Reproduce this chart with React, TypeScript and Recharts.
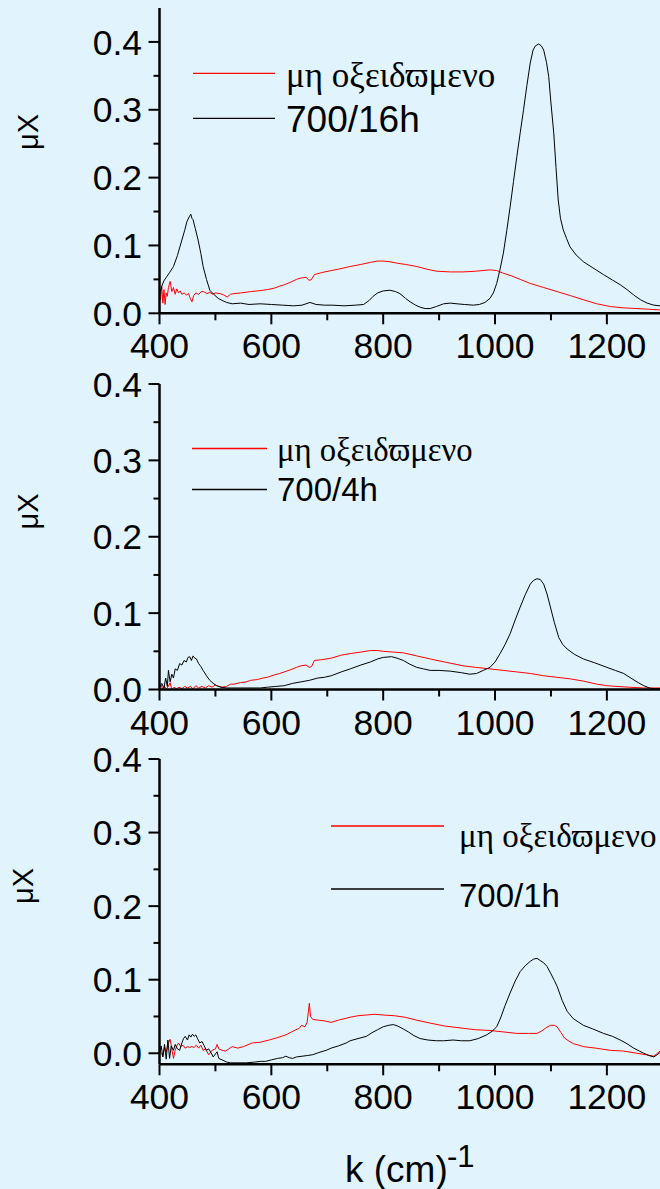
import React from 'react';
import { LineChart, Line, XAxis, YAxis, Legend } from 'recharts';

// ---------- data ----------
const k16Black = [400, 404, 408, 413, 418, 425, 432, 440, 445, 449, 453, 456, 458, 460, 464, 469, 474, 478, 484, 490, 497, 505, 512, 520, 530, 545, 560, 580, 600, 620, 640, 655, 669, 680, 695, 710, 730, 750, 765, 775, 782, 790, 800, 812, 822, 830, 840, 848, 858, 866, 875, 884, 895, 908, 920, 932, 945, 961, 972, 982, 991, 997, 1003, 1009, 1015, 1021, 1027, 1033, 1039, 1045, 1051, 1057, 1063, 1068, 1072, 1078, 1083, 1087, 1092, 1096, 1100, 1105, 1109, 1113, 1117, 1122, 1128, 1134, 1145, 1158, 1175, 1194, 1210, 1224, 1236, 1248, 1260, 1272, 1284, 1295];
const v16Black = [0.028, 0.040, 0.048, 0.054, 0.060, 0.069, 0.085, 0.108, 0.122, 0.135, 0.142, 0.146, 0.140, 0.138, 0.125, 0.108, 0.088, 0.069, 0.050, 0.034, 0.028, 0.022, 0.019, 0.016, 0.014, 0.015, 0.013, 0.014, 0.013, 0.012, 0.011, 0.012, 0.016, 0.013, 0.012, 0.012, 0.011, 0.012, 0.013, 0.019, 0.025, 0.030, 0.033, 0.034, 0.032, 0.029, 0.022, 0.017, 0.012, 0.009, 0.007, 0.007, 0.010, 0.014, 0.015, 0.014, 0.013, 0.012, 0.013, 0.016, 0.022, 0.030, 0.044, 0.065, 0.089, 0.122, 0.157, 0.194, 0.231, 0.266, 0.300, 0.336, 0.369, 0.388, 0.394, 0.397, 0.394, 0.388, 0.370, 0.349, 0.310, 0.266, 0.215, 0.167, 0.140, 0.123, 0.110, 0.098, 0.086, 0.076, 0.067, 0.057, 0.049, 0.042, 0.035, 0.027, 0.020, 0.015, 0.012, 0.011];

const k16Red = [400, 402, 404, 406, 408, 410, 412, 414, 416, 419, 422, 425, 428, 431, 434, 437, 440, 444, 448, 452, 455, 458, 461, 465, 470, 475, 479, 485, 490, 495, 500, 509, 515, 521, 527, 533, 545, 555, 563, 575, 585, 593, 605, 615, 623, 635, 645, 653, 662, 667, 671, 677, 690, 707, 720, 741, 760, 777, 790, 800, 812, 824, 840, 860, 878, 896, 920, 943, 965, 991, 1003, 1015, 1030, 1045, 1063, 1087, 1111, 1135, 1158, 1182, 1206, 1230, 1254, 1275, 1295];
const v16Red = [0.035, 0.020, 0.040, 0.015, 0.035, 0.013, 0.030, 0.025, 0.038, 0.047, 0.032, 0.038, 0.028, 0.036, 0.030, 0.033, 0.028, 0.030, 0.027, 0.029, 0.022, 0.017, 0.026, 0.030, 0.028, 0.032, 0.032, 0.029, 0.031, 0.028, 0.030, 0.029, 0.027, 0.024, 0.028, 0.029, 0.030, 0.031, 0.032, 0.033, 0.034, 0.035, 0.037, 0.040, 0.042, 0.046, 0.050, 0.052, 0.053, 0.049, 0.049, 0.057, 0.060, 0.063, 0.065, 0.069, 0.072, 0.075, 0.077, 0.077, 0.076, 0.074, 0.072, 0.069, 0.065, 0.062, 0.061, 0.061, 0.062, 0.064, 0.063, 0.059, 0.055, 0.050, 0.044, 0.038, 0.032, 0.026, 0.020, 0.014, 0.010, 0.008, 0.007, 0.006, 0.005];

const k4Black = [400, 404, 408, 411, 414, 416, 419, 422, 425, 428, 432, 436, 440, 444, 448, 451, 454, 457, 460, 463, 466, 470, 474, 478, 484, 490, 496, 502, 510, 520, 540, 560, 580, 593, 608, 623, 638, 653, 668, 683, 695, 707, 725, 741, 760, 777, 790, 800, 815, 825, 836, 848, 860, 872, 884, 900, 920, 940, 955, 967, 979, 991, 1000, 1009, 1018, 1027, 1036, 1045, 1054, 1063, 1069, 1075, 1081, 1087, 1093, 1099, 1106, 1114, 1121, 1129, 1142, 1158, 1178, 1200, 1215, 1230, 1245, 1256, 1266, 1276, 1284, 1295];
const v4Black = [0.003, 0.008, 0.002, 0.015, 0.004, 0.025, 0.010, 0.020, 0.015, 0.027, 0.025, 0.034, 0.032, 0.038, 0.036, 0.042, 0.043, 0.038, 0.044, 0.041, 0.040, 0.034, 0.030, 0.025, 0.018, 0.012, 0.008, 0.005, 0.003, 0.002, 0.002, 0.002, 0.002, 0.003, 0.004, 0.005, 0.008, 0.010, 0.012, 0.015, 0.016, 0.018, 0.023, 0.027, 0.032, 0.036, 0.040, 0.042, 0.043, 0.041, 0.038, 0.033, 0.029, 0.027, 0.025, 0.025, 0.024, 0.022, 0.020, 0.021, 0.025, 0.029, 0.036, 0.047, 0.059, 0.073, 0.091, 0.108, 0.124, 0.138, 0.143, 0.145, 0.144, 0.138, 0.125, 0.108, 0.088, 0.068, 0.059, 0.053, 0.046, 0.040, 0.035, 0.029, 0.025, 0.021, 0.014, 0.009, 0.005, 0.002, 0.001, 0.001];

const k4Red = [400, 403, 406, 409, 412, 415, 419, 422, 426, 430, 435, 440, 445, 450, 455, 460, 465, 470, 476, 482, 488, 494, 500, 506, 512, 520, 527, 533, 545, 555, 563, 575, 585, 593, 605, 615, 623, 635, 645, 653, 662, 668, 672, 677, 690, 707, 725, 741, 760, 777, 790, 800, 818, 836, 860, 884, 910, 943, 965, 991, 1015, 1039, 1063, 1087, 1110, 1134, 1158, 1182, 1200, 1218, 1240, 1266, 1295];
const v4Red = [0.002, 0.006, 0.000, 0.004, 0.001, 0.003, 0.009, 0.000, 0.003, 0.001, 0.003, 0.001, 0.004, 0.002, 0.004, 0.001, 0.005, 0.002, 0.004, 0.002, 0.005, 0.003, 0.006, 0.004, 0.003, 0.004, 0.007, 0.007, 0.009, 0.010, 0.012, 0.013, 0.015, 0.016, 0.019, 0.021, 0.023, 0.026, 0.029, 0.031, 0.032, 0.029, 0.030, 0.038, 0.039, 0.041, 0.045, 0.047, 0.049, 0.051, 0.051, 0.050, 0.049, 0.048, 0.044, 0.040, 0.036, 0.031, 0.029, 0.027, 0.025, 0.023, 0.021, 0.018, 0.016, 0.014, 0.011, 0.007, 0.005, 0.004, 0.003, 0.002, 0.002];

const k1Black = [400, 403, 406, 409, 412, 415, 418, 421, 425, 428, 432, 436, 440, 443, 446, 450, 453, 456, 459, 462, 465, 468, 472, 476, 480, 484, 488, 492, 496, 500, 503, 506, 512, 520, 527, 540, 555, 570, 581, 590, 600, 611, 620, 626, 632, 638, 645, 655, 665, 674, 685, 698, 707, 720, 734, 741, 755, 770, 780, 790, 800, 810, 818, 826, 836, 845, 855, 866, 880, 895, 908, 925, 940, 955, 970, 985, 995, 1003, 1010, 1018, 1027, 1036, 1045, 1054, 1063, 1069, 1075, 1081, 1087, 1093, 1100, 1106, 1111, 1120, 1129, 1140, 1150, 1158, 1175, 1194, 1210, 1224, 1236, 1248, 1258, 1266, 1275, 1284, 1290, 1295];
const v1Black = [0.000, 0.010, -0.005, 0.012, -0.008, 0.018, -0.007, 0.010, 0.004, 0.012, 0.006, 0.004, 0.014, 0.020, 0.023, 0.018, 0.025, 0.022, 0.026, 0.023, 0.025, 0.020, 0.014, 0.016, 0.010, 0.004, 0.006, 0.001, -0.005, -0.001, 0.002, -0.007, -0.009, -0.012, -0.013, -0.013, -0.013, -0.012, -0.011, -0.011, -0.009, -0.007, -0.006, -0.004, -0.006, -0.007, -0.005, -0.004, -0.003, -0.002, 0.001, 0.004, 0.007, 0.010, 0.014, 0.017, 0.020, 0.023, 0.028, 0.032, 0.036, 0.038, 0.039, 0.037, 0.033, 0.029, 0.024, 0.020, 0.018, 0.017, 0.017, 0.018, 0.017, 0.017, 0.020, 0.025, 0.030, 0.036, 0.048, 0.065, 0.082, 0.098, 0.111, 0.119, 0.125, 0.128, 0.129, 0.126, 0.123, 0.118, 0.108, 0.099, 0.091, 0.072, 0.057, 0.047, 0.042, 0.038, 0.033, 0.027, 0.023, 0.018, 0.013, 0.007, 0.003, 0.000, -0.003, -0.005, -0.002, 0.001];

const k1Red = [400, 403, 406, 409, 412, 415, 419, 422, 425, 428, 431, 434, 438, 442, 446, 450, 454, 458, 462, 466, 470, 474, 478, 482, 488, 494, 500, 503, 506, 512, 518, 524, 530, 540, 550, 566, 580, 596, 610, 626, 636, 644, 650, 654, 660, 664, 666, 668, 670, 674, 684, 695, 707, 720, 741, 755, 770, 785, 800, 820, 839, 860, 884, 910, 943, 965, 991, 1015, 1039, 1060, 1075, 1083, 1090, 1099, 1106, 1111, 1118, 1124, 1129, 1140, 1150, 1158, 1180, 1206, 1230, 1254, 1270, 1284, 1295];
const v1Red = [0.004, 0.000, -0.004, 0.008, 0.002, 0.012, 0.019, 0.006, -0.007, 0.004, 0.010, 0.014, 0.009, 0.011, 0.007, 0.009, 0.008, 0.009, 0.008, 0.011, 0.007, 0.011, 0.004, 0.006, -0.002, 0.004, 0.006, 0.012, 0.006, 0.004, 0.003, 0.006, 0.009, 0.007, 0.009, 0.014, 0.015, 0.018, 0.021, 0.025, 0.029, 0.032, 0.034, 0.038, 0.036, 0.042, 0.055, 0.068, 0.050, 0.046, 0.045, 0.044, 0.042, 0.045, 0.049, 0.051, 0.052, 0.053, 0.052, 0.051, 0.049, 0.045, 0.041, 0.037, 0.034, 0.032, 0.031, 0.029, 0.027, 0.027, 0.027, 0.030, 0.034, 0.038, 0.038, 0.036, 0.028, 0.021, 0.018, 0.013, 0.011, 0.009, 0.007, 0.004, 0.003, 0.000, -0.002, -0.004, 0.003];

const xTicks = [400, 500, 600, 700, 800, 900, 1000, 1100, 1200];
const yTicks = [0, 0.05, 0.1, 0.15, 0.2, 0.25, 0.3, 0.35, 0.4];
const redName = 'μη οξειδϖμενο';
const blackNames = ['700/16h', '700/4h', '700/1h'];
const yLabelText = 'μX';
const xTitleMain = 'k (cm)';
const xTitleSup = '-1';

// ---------- styling ----------
const BG = '#e1f4fd';
const SANS = '"Liberation Sans", Arial, sans-serif';
const SERIF = '"Liberation Serif", "Times New Roman", serif';
const AXIS_W = 2.5;
const TICK_FONT = 35.5;
const X_DOMAIN: [number, number] = [400, 1295];

const zip = (ks: number[], vs: number[]) => ks.map((k, i) => ({ k, v: vs[i] }));

const YTick = (props: any) => {
  const { x, y, payload } = props;
  const v = payload.value as number;
  const major = Math.round(v * 20) % 2 === 0;
  return (
    <g>
      <line x1={x - (major ? 11 : 6)} x2={x} y1={y} y2={y} stroke="#000" strokeWidth={2} />
      {major && (
        <text x={x - 17.5} y={y + 12.7} textAnchor="end" fontFamily={SANS} fontSize={TICK_FONT} fill="#000">
          {v.toFixed(1)}
        </text>
      )}
    </g>
  );
};

const XTick = (props: any) => {
  const { x, y, payload } = props;
  const v = payload.value as number;
  const major = v % 200 === 0;
  return (
    <g>
      <line x1={x} x2={x} y1={y} y2={y + (major ? 11 : 7)} stroke="#000" strokeWidth={2} />
      {major && (
        <text x={x} y={y + 45} textAnchor="middle" fontFamily={SANS} fontSize={TICK_FONT} fill="#000">
          {v}
        </text>
      )}
    </g>
  );
};

const TopTick = (props: any) => {
  const { x, y } = props;
  return <line x1={x} x2={x} y1={y} y2={y + 3} stroke="#000" strokeWidth={2} />;
};

type LegendCfg = {
  x1: number;
  x2: number;
  tx: number;
  redY: number;
  blackY: number;
  redBase: number;
  blackBase: number;
  redSize: number;
  blackSize: number;
};

type PanelCfg = {
  top: number;
  height: number;
  mTop: number;
  xAxisH: number;
  yDomain: [number, number];
  red: { k: number; v: number }[];
  black: { k: number; v: number }[];
  blackName: string;
  legend: LegendCfg;
  yLabel: { x: number; y: number };
  title?: boolean;
};

const Panel = ({ cfg }: { cfg: PanelCfg }) => {
  const L = cfg.legend;
  const legendContent = (p: any) => {
    const items = (p.payload || []) as any[];
    const red = items.find((it) => it.value === redName);
    const black = items.find((it) => it.value !== redName);
    return (
      <svg width={660} height={cfg.height} style={{ display: 'block' }}>
        <line x1={L.x1} x2={L.x2} y1={L.redY} y2={L.redY} stroke={red ? red.color : '#ff0000'} strokeWidth={1.3} />
        <text x={L.tx} y={L.redBase} fontFamily={SERIF} fontSize={L.redSize} fill="#000">
          {red ? red.value : redName}
        </text>
        <line x1={L.x1} x2={L.x2} y1={L.blackY} y2={L.blackY} stroke={black ? black.color : '#000'} strokeWidth={1.3} />
        <text x={L.tx} y={L.blackBase} fontFamily={SANS} fontSize={L.blackSize} fill="#000">
          {black ? black.value : cfg.blackName}
        </text>
        <text
          x={cfg.yLabel.x}
          y={cfg.yLabel.y}
          transform={`rotate(-90, ${cfg.yLabel.x}, ${cfg.yLabel.y})`}
          textAnchor="middle"
          fontFamily={SANS}
          fontSize={29}
          fill="#000"
        >
          {yLabelText}
        </text>
        {cfg.title && (
          <text x={345} y={442.7} fontFamily={SANS} fontSize={37} fill="#000">
            {xTitleMain}
            <tspan x={447} y={428} fontSize={31}>{xTitleSup}</tspan>
          </text>
        )}
      </svg>
    );
  };

  return (
    <div style={{ position: 'absolute', left: 0, top: cfg.top, width: 660, height: cfg.height }}>
      <LineChart width={660} height={cfg.height} margin={{ top: cfg.mTop, right: 0, bottom: 0, left: 0 }}>
        <XAxis
          xAxisId={0}
          type="number"
          dataKey="k"
          domain={X_DOMAIN}
          allowDataOverflow
          ticks={xTicks}
          interval={0}
          height={cfg.xAxisH}
          tickSize={0}
          tickMargin={0}
          tickLine={false}
          tick={<XTick />}
          axisLine={{ stroke: '#000', strokeWidth: AXIS_W }}
        />
        <XAxis
          xAxisId="top"
          orientation="top"
          type="number"
          dataKey="k"
          domain={X_DOMAIN}
          allowDataOverflow
          ticks={xTicks}
          interval={0}
          height={0}
          tickSize={0}
          tickMargin={0}
          tickLine={false}
          tick={<TopTick />}
          axisLine={{ stroke: '#000', strokeWidth: AXIS_W }}
        />
        <YAxis
          type="number"
          domain={cfg.yDomain}
          allowDataOverflow
          ticks={yTicks}
          interval={0}
          width={159.5}
          tickSize={0}
          tickMargin={0}
          tickLine={false}
          tick={<YTick />}
          axisLine={{ stroke: '#000', strokeWidth: AXIS_W }}
        />
        <Legend
          layout="horizontal"
          verticalAlign="middle"
          align="center"
          wrapperStyle={{ position: 'absolute', left: 0, top: 0, width: 660, height: cfg.height, margin: 0, padding: 0 }}
          content={legendContent}
        />
        <Line
          name={redName}
          data={cfg.red}
          dataKey="v"
          type="linear"
          stroke="#ff0000"
          strokeWidth={1}
          dot={false}
          isAnimationActive={false}
        />
        <Line
          name={cfg.blackName}
          data={cfg.black}
          dataKey="v"
          type="linear"
          stroke="#000000"
          strokeWidth={1}
          dot={false}
          isAnimationActive={false}
        />
      </LineChart>
    </div>
  );
};

const panels: PanelCfg[] = [
  {
    top: 0,
    height: 380,
    mTop: 8,
    xAxisH: 380 - 8 - 305.3,
    yDomain: [0, 0.45],
    red: zip(k16Red, v16Red),
    black: zip(k16Black, v16Black),
    blackName: blackNames[0],
    legend: { x1: 193, x2: 275, tx: 286, redY: 73.3, blackY: 118.3, redBase: 86.7, blackBase: 131.5, redSize: 35, blackSize: 37 },
    yLabel: { x: 38, y: 132 },
  },
  {
    top: 363.5,
    height: 386,
    mTop: 20,
    xAxisH: 386 - 20 - 305.5,
    yDomain: [0, 0.4],
    red: zip(k4Red, v4Red),
    black: zip(k4Black, v4Black),
    blackName: blackNames[1],
    legend: { x1: 192, x2: 267, tx: 277, redY: 84.5, blackY: 125.5, redBase: 96.5, blackBase: 137, redSize: 32.7, blackSize: 33 },
    yLabel: { x: 38, y: 147.5 },
  },
  {
    top: 739,
    height: 450,
    mTop: 20,
    xAxisH: 450 - 20 - 305.3,
    yDomain: [-0.015, 0.4],
    red: zip(k1Red, v1Red),
    black: zip(k1Black, v1Black),
    blackName: blackNames[2],
    legend: { x1: 331, x2: 444, tx: 459, redY: 87, blackY: 150, redBase: 107.7, blackBase: 167.7, redSize: 33, blackSize: 33 },
    yLabel: { x: 33, y: 147 },
    title: true,
  },
];

export default function App() {
  return (
    <div
      style={{
        position: 'absolute',
        left: 0,
        top: 0,
        width: 660,
        height: 1189,
        background: BG,
        overflow: 'hidden',
      }}
    >
      {panels.map((p, i) => (
        <Panel key={i} cfg={p} />
      ))}
    </div>
  );
}
